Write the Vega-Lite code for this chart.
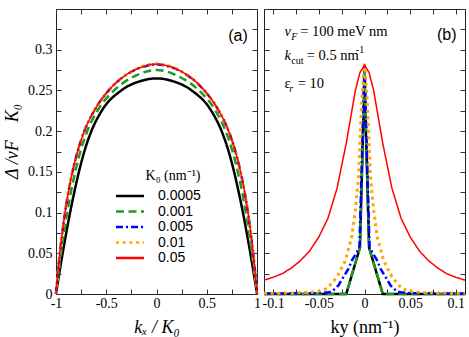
{
  "$schema": "https://vega.github.io/schema/vega-lite/v6.json",
  "padding": {"left": 3, "top": 1, "right": 0, "bottom": 0},
  "background": "white",
  "config": {
    "view": {"stroke": "#222", "strokeWidth": 1},
    "axis": {"domain": false, "grid": false, "ticks": true, "tickSize": -5, "tickColor": "#333", "tickWidth": 1, "labelFont": "Liberation Serif", "labelFontSize": 14, "labelColor": "#000", "labelFlush": false, "labelOverlap": false, "titleFont": "Liberation Serif", "titleFontSize": 18, "titleFontWeight": "normal", "titleColor": "#000"}
  },
  "datasets": {
    "a": [
      {"kx": -1, "D": 0, "K0": "0.0005"}, {"kx": -0.968, "D": 0.025, "K0": "0.0005"}, {"kx": -0.934, "D": 0.05, "K0": "0.0005"}, {"kx": -0.898, "D": 0.075, "K0": "0.0005"}, {"kx": -0.86, "D": 0.1, "K0": "0.0005"}, {"kx": -0.818, "D": 0.125, "K0": "0.0005"}, {"kx": -0.772, "D": 0.15, "K0": "0.0005"}, {"kx": -0.718, "D": 0.175, "K0": "0.0005"}, {"kx": -0.648, "D": 0.2, "K0": "0.0005"}, {"kx": -0.545, "D": 0.225, "K0": "0.0005"}, {"kx": -0.35, "D": 0.25, "K0": "0.0005"}, {"kx": -0.15, "D": 0.2618, "K0": "0.0005"}, {"kx": 0, "D": 0.2648, "K0": "0.0005"}, {"kx": 0.15, "D": 0.2618, "K0": "0.0005"}, {"kx": 0.35, "D": 0.25, "K0": "0.0005"}, {"kx": 0.545, "D": 0.225, "K0": "0.0005"}, {"kx": 0.648, "D": 0.2, "K0": "0.0005"}, {"kx": 0.718, "D": 0.175, "K0": "0.0005"}, {"kx": 0.772, "D": 0.15, "K0": "0.0005"}, {"kx": 0.818, "D": 0.125, "K0": "0.0005"}, {"kx": 0.86, "D": 0.1, "K0": "0.0005"}, {"kx": 0.898, "D": 0.075, "K0": "0.0005"}, {"kx": 0.934, "D": 0.05, "K0": "0.0005"}, {"kx": 0.968, "D": 0.025, "K0": "0.0005"}, {"kx": 1, "D": 0, "K0": "0.0005"},
      {"kx": -1, "D": 0, "K0": "0.001"}, {"kx": -0.976, "D": 0.025, "K0": "0.001"}, {"kx": -0.95, "D": 0.05, "K0": "0.001"}, {"kx": -0.921, "D": 0.075, "K0": "0.001"}, {"kx": -0.889, "D": 0.1, "K0": "0.001"}, {"kx": -0.852, "D": 0.125, "K0": "0.001"}, {"kx": -0.809, "D": 0.15, "K0": "0.001"}, {"kx": -0.757, "D": 0.175, "K0": "0.001"}, {"kx": -0.689, "D": 0.2, "K0": "0.001"}, {"kx": -0.588, "D": 0.225, "K0": "0.001"}, {"kx": -0.422, "D": 0.25, "K0": "0.001"}, {"kx": -0.2, "D": 0.2685, "K0": "0.001"}, {"kx": -0.1, "D": 0.2733, "K0": "0.001"}, {"kx": 0, "D": 0.275, "K0": "0.001"}, {"kx": 0.1, "D": 0.2733, "K0": "0.001"}, {"kx": 0.2, "D": 0.2685, "K0": "0.001"}, {"kx": 0.422, "D": 0.25, "K0": "0.001"}, {"kx": 0.588, "D": 0.225, "K0": "0.001"}, {"kx": 0.689, "D": 0.2, "K0": "0.001"}, {"kx": 0.757, "D": 0.175, "K0": "0.001"}, {"kx": 0.809, "D": 0.15, "K0": "0.001"}, {"kx": 0.852, "D": 0.125, "K0": "0.001"}, {"kx": 0.889, "D": 0.1, "K0": "0.001"}, {"kx": 0.921, "D": 0.075, "K0": "0.001"}, {"kx": 0.95, "D": 0.05, "K0": "0.001"}, {"kx": 0.976, "D": 0.025, "K0": "0.001"}, {"kx": 1, "D": 0, "K0": "0.001"},
      {"kx": -1, "D": 0, "K0": "0.005"}, {"kx": -0.982, "D": 0.025, "K0": "0.005"}, {"kx": -0.962, "D": 0.05, "K0": "0.005"}, {"kx": -0.938, "D": 0.075, "K0": "0.005"}, {"kx": -0.91, "D": 0.1, "K0": "0.005"}, {"kx": -0.877, "D": 0.125, "K0": "0.005"}, {"kx": -0.836, "D": 0.15, "K0": "0.005"}, {"kx": -0.785, "D": 0.175, "K0": "0.005"}, {"kx": -0.718, "D": 0.2, "K0": "0.005"}, {"kx": -0.62, "D": 0.225, "K0": "0.005"}, {"kx": -0.475, "D": 0.25, "K0": "0.005"}, {"kx": -0.22, "D": 0.2748, "K0": "0.005"}, {"kx": -0.1, "D": 0.2801, "K0": "0.005"}, {"kx": 0, "D": 0.2818, "K0": "0.005"}, {"kx": 0.1, "D": 0.2801, "K0": "0.005"}, {"kx": 0.22, "D": 0.2748, "K0": "0.005"}, {"kx": 0.475, "D": 0.25, "K0": "0.005"}, {"kx": 0.62, "D": 0.225, "K0": "0.005"}, {"kx": 0.718, "D": 0.2, "K0": "0.005"}, {"kx": 0.785, "D": 0.175, "K0": "0.005"}, {"kx": 0.836, "D": 0.15, "K0": "0.005"}, {"kx": 0.877, "D": 0.125, "K0": "0.005"}, {"kx": 0.91, "D": 0.1, "K0": "0.005"}, {"kx": 0.938, "D": 0.075, "K0": "0.005"}, {"kx": 0.962, "D": 0.05, "K0": "0.005"}, {"kx": 0.982, "D": 0.025, "K0": "0.005"}, {"kx": 0.998, "D": 0.004, "K0": "0.005"},
      {"kx": -1, "D": 0, "K0": "0.01"}, {"kx": -0.982, "D": 0.025, "K0": "0.01"}, {"kx": -0.962, "D": 0.05, "K0": "0.01"}, {"kx": -0.938, "D": 0.075, "K0": "0.01"}, {"kx": -0.91, "D": 0.1, "K0": "0.01"}, {"kx": -0.877, "D": 0.125, "K0": "0.01"}, {"kx": -0.836, "D": 0.15, "K0": "0.01"}, {"kx": -0.785, "D": 0.175, "K0": "0.01"}, {"kx": -0.718, "D": 0.2, "K0": "0.01"}, {"kx": -0.62, "D": 0.225, "K0": "0.01"}, {"kx": -0.475, "D": 0.25, "K0": "0.01"}, {"kx": -0.22, "D": 0.2752, "K0": "0.01"}, {"kx": -0.1, "D": 0.281, "K0": "0.01"}, {"kx": 0, "D": 0.2828, "K0": "0.01"}, {"kx": 0.1, "D": 0.281, "K0": "0.01"}, {"kx": 0.22, "D": 0.2752, "K0": "0.01"}, {"kx": 0.475, "D": 0.25, "K0": "0.01"}, {"kx": 0.62, "D": 0.225, "K0": "0.01"}, {"kx": 0.718, "D": 0.2, "K0": "0.01"}, {"kx": 0.785, "D": 0.175, "K0": "0.01"}, {"kx": 0.836, "D": 0.15, "K0": "0.01"}, {"kx": 0.877, "D": 0.125, "K0": "0.01"}, {"kx": 0.91, "D": 0.1, "K0": "0.01"}, {"kx": 0.938, "D": 0.075, "K0": "0.01"}, {"kx": 0.962, "D": 0.05, "K0": "0.01"}, {"kx": 0.982, "D": 0.025, "K0": "0.01"}, {"kx": 1, "D": 0, "K0": "0.01"},
      {"kx": -1, "D": 0, "K0": "0.05"}, {"kx": -0.982, "D": 0.025, "K0": "0.05"}, {"kx": -0.962, "D": 0.05, "K0": "0.05"}, {"kx": -0.938, "D": 0.075, "K0": "0.05"}, {"kx": -0.91, "D": 0.1, "K0": "0.05"}, {"kx": -0.877, "D": 0.125, "K0": "0.05"}, {"kx": -0.836, "D": 0.15, "K0": "0.05"}, {"kx": -0.785, "D": 0.175, "K0": "0.05"}, {"kx": -0.718, "D": 0.2, "K0": "0.05"}, {"kx": -0.62, "D": 0.225, "K0": "0.05"}, {"kx": -0.475, "D": 0.25, "K0": "0.05"}, {"kx": -0.22, "D": 0.275, "K0": "0.05"}, {"kx": -0.1, "D": 0.2805, "K0": "0.05"}, {"kx": 0, "D": 0.2823, "K0": "0.05"}, {"kx": 0.1, "D": 0.2805, "K0": "0.05"}, {"kx": 0.22, "D": 0.275, "K0": "0.05"}, {"kx": 0.475, "D": 0.25, "K0": "0.05"}, {"kx": 0.62, "D": 0.225, "K0": "0.05"}, {"kx": 0.718, "D": 0.2, "K0": "0.05"}, {"kx": 0.785, "D": 0.175, "K0": "0.05"}, {"kx": 0.836, "D": 0.15, "K0": "0.05"}, {"kx": 0.877, "D": 0.125, "K0": "0.05"}, {"kx": 0.91, "D": 0.1, "K0": "0.05"}, {"kx": 0.938, "D": 0.075, "K0": "0.05"}, {"kx": 0.962, "D": 0.05, "K0": "0.05"}, {"kx": 0.982, "D": 0.025, "K0": "0.05"}, {"kx": 1, "D": 0, "K0": "0.05"}
    ],
    "b": [
      {"ky": -0.11, "D": 0, "K0": "0.0005"}, {"ky": -0.02, "D": 0, "K0": "0.0005"}, {"ky": -0.005, "D": 0.057, "K0": "0.0005"}, {"ky": 0, "D": 0.2648, "K0": "0.0005"}, {"ky": 0.005, "D": 0.057, "K0": "0.0005"}, {"ky": 0.02, "D": 0, "K0": "0.0005"}, {"ky": 0.11, "D": 0, "K0": "0.0005"},
      {"ky": -0.11, "D": 0, "K0": "0.001"}, {"ky": -0.02, "D": 0, "K0": "0.001"}, {"ky": -0.005, "D": 0.057, "K0": "0.001"}, {"ky": 0, "D": 0.275, "K0": "0.001"}, {"ky": 0.005, "D": 0.057, "K0": "0.001"}, {"ky": 0.02, "D": 0, "K0": "0.001"}, {"ky": 0.11, "D": 0, "K0": "0.001"},
      {"ky": -0.11, "D": 0.0005, "K0": "0.005"}, {"ky": -0.05, "D": 0.001, "K0": "0.005"}, {"ky": -0.036, "D": 0.0025, "K0": "0.005"}, {"ky": -0.0285, "D": 0.0106, "K0": "0.005"}, {"ky": -0.023, "D": 0.021, "K0": "0.005"}, {"ky": -0.0175, "D": 0.031, "K0": "0.005"}, {"ky": -0.0139, "D": 0.041, "K0": "0.005"}, {"ky": -0.0084, "D": 0.0515, "K0": "0.005"}, {"ky": -0.0055, "D": 0.058, "K0": "0.005"}, {"ky": 0, "D": 0.2818, "K0": "0.005"}, {"ky": 0.0055, "D": 0.058, "K0": "0.005"}, {"ky": 0.0084, "D": 0.0515, "K0": "0.005"}, {"ky": 0.0139, "D": 0.041, "K0": "0.005"}, {"ky": 0.0175, "D": 0.031, "K0": "0.005"}, {"ky": 0.023, "D": 0.021, "K0": "0.005"}, {"ky": 0.0285, "D": 0.0106, "K0": "0.005"}, {"ky": 0.036, "D": 0.0025, "K0": "0.005"}, {"ky": 0.05, "D": 0.001, "K0": "0.005"}, {"ky": 0.11, "D": 0.0005, "K0": "0.005"},
      {"ky": -0.11, "D": 0.0008, "K0": "0.01"}, {"ky": -0.07, "D": 0.0015, "K0": "0.01"}, {"ky": -0.054, "D": 0.0025, "K0": "0.01"}, {"ky": -0.041, "D": 0.0065, "K0": "0.01"}, {"ky": -0.03, "D": 0.021, "K0": "0.01"}, {"ky": -0.021, "D": 0.041, "K0": "0.01"}, {"ky": -0.014, "D": 0.07, "K0": "0.01"}, {"ky": -0.01, "D": 0.103, "K0": "0.01"}, {"ky": -0.0066, "D": 0.143, "K0": "0.01"}, {"ky": -0.0047, "D": 0.196, "K0": "0.01"}, {"ky": -0.003, "D": 0.237, "K0": "0.01"}, {"ky": 0, "D": 0.2828, "K0": "0.01"}, {"ky": 0.003, "D": 0.237, "K0": "0.01"}, {"ky": 0.0047, "D": 0.196, "K0": "0.01"}, {"ky": 0.0066, "D": 0.143, "K0": "0.01"}, {"ky": 0.01, "D": 0.103, "K0": "0.01"}, {"ky": 0.014, "D": 0.07, "K0": "0.01"}, {"ky": 0.021, "D": 0.041, "K0": "0.01"}, {"ky": 0.03, "D": 0.021, "K0": "0.01"}, {"ky": 0.041, "D": 0.0065, "K0": "0.01"}, {"ky": 0.054, "D": 0.0025, "K0": "0.01"}, {"ky": 0.07, "D": 0.0015, "K0": "0.01"}, {"ky": 0.11, "D": 0.0008, "K0": "0.01"},
      {"ky": -0.11, "D": 0.017, "K0": "0.05"}, {"ky": -0.1, "D": 0.0205, "K0": "0.05"}, {"ky": -0.09, "D": 0.025, "K0": "0.05"}, {"ky": -0.08, "D": 0.032, "K0": "0.05"}, {"ky": -0.07, "D": 0.041, "K0": "0.05"}, {"ky": -0.06, "D": 0.053, "K0": "0.05"}, {"ky": -0.05, "D": 0.07, "K0": "0.05"}, {"ky": -0.04, "D": 0.093, "K0": "0.05"}, {"ky": -0.03, "D": 0.13, "K0": "0.05"}, {"ky": -0.02, "D": 0.185, "K0": "0.05"}, {"ky": -0.01, "D": 0.25, "K0": "0.05"}, {"ky": -0.005, "D": 0.272, "K0": "0.05"}, {"ky": 0, "D": 0.281, "K0": "0.05"}, {"ky": 0.005, "D": 0.272, "K0": "0.05"}, {"ky": 0.01, "D": 0.25, "K0": "0.05"}, {"ky": 0.02, "D": 0.185, "K0": "0.05"}, {"ky": 0.03, "D": 0.13, "K0": "0.05"}, {"ky": 0.04, "D": 0.093, "K0": "0.05"}, {"ky": 0.05, "D": 0.07, "K0": "0.05"}, {"ky": 0.06, "D": 0.053, "K0": "0.05"}, {"ky": 0.07, "D": 0.041, "K0": "0.05"}, {"ky": 0.08, "D": 0.032, "K0": "0.05"}, {"ky": 0.09, "D": 0.025, "K0": "0.05"}, {"ky": 0.1, "D": 0.0205, "K0": "0.05"}, {"ky": 0.11, "D": 0.017, "K0": "0.05"}
    ]
  },
  "spacing": 7,
  "bounds": "flush",
  "resolve": {"legend": {"color": "independent", "strokeDash": "independent"}},
  "hconcat": [
    {
      "width": 201,
      "height": 285,
      "layer": [
        {
          "data": {"name": "a"},
          "mark": {"type": "line", "interpolate": "monotone", "strokeWidth": {"expr": "datum.K0 == '0.05' ? 1.5 : (datum.K0 == '0.01' ? 3 : 2.5)"}},
          "encoding": {
            "x": {"field": "kx", "type": "quantitative", "scale": {"domain": [-1, 1], "nice": false, "zero": false},
              "axis": {"orient": "bottom", "values": [-1, -0.75, -0.5, -0.25, 0, 0.25, 0.5, 0.75, 1], "format": "~g", "labelPadding": 7,
                "labelExpr": "abs(datum.value*2 - round(datum.value*2)) < 0.001 ? replace(datum.label, '−', '-') : ''",
                "title": "kₓ / K₀", "titleFontStyle": "italic", "titlePadding": 8}},
            "y": {"field": "D", "type": "quantitative", "scale": {"domain": [0, 0.35], "nice": false},
              "axis": {"orient": "left", "values": [0, 0.025, 0.05, 0.075, 0.1, 0.125, 0.15, 0.175, 0.2, 0.225, 0.25, 0.275, 0.3, 0.325, 0.35], "format": "~g", "labelPadding": 9,
                "labelExpr": "abs(datum.value*20 - round(datum.value*20)) < 0.001 && datum.value < 0.32 ? datum.label : ''",
                "title": "Δ /vF\u2003K₀", "titleFontStyle": "italic", "titlePadding": 6, "titleY": 132}},
            "color": {"field": "K0", "type": "nominal",
              "scale": {"domain": ["0.0005", "0.001", "0.005", "0.01", "0.05"], "range": ["#000000", "#1e9a1e", "#0000ff", "#ffa500", "#ff0000"]},
              "legend": {"orient": "none", "legendX": 58.5, "legendY": 160, "title": "K₀ (nm⁻¹)", "titleFont": "Liberation Serif", "titleFontSize": 14, "titleFontWeight": "normal", "titleColor": "#000", "titleAnchor": "end", "titlePadding": 6, "labelFont": "Liberation Sans", "labelFontSize": 14, "labelColor": "#000", "labelAlign": "left", "labelOffset": 12.5, "symbolType": "stroke", "symbolSize": 784, "symbolStrokeWidth": 2.5, "clipHeight": 14, "rowPadding": 1.5, "padding": 0}},
            "strokeDash": {"field": "K0", "type": "nominal",
              "scale": {"domain": ["0.0005", "0.001", "0.005", "0.01", "0.05"], "range": [[1, 0], [8, 4.5], [7, 3, 2, 3], [3, 3.7], [1, 0]]},
              "legend": {"orient": "none", "legendX": 58.5, "legendY": 160, "title": "K₀ (nm⁻¹)", "titleFont": "Liberation Serif", "titleFontSize": 14, "titleFontWeight": "normal", "titleColor": "#000", "titleAnchor": "end", "titlePadding": 6, "labelFont": "Liberation Sans", "labelFontSize": 14, "labelColor": "#000", "labelAlign": "left", "labelOffset": 12.5, "symbolType": "stroke", "symbolSize": 784, "symbolStrokeWidth": 2.5, "clipHeight": 14, "rowPadding": 1.5, "padding": 0}}
          }
        },
        {
          "data": {"values": [{"t": "(a)", "x": 0.811, "y": 0.317}]},
          "mark": {"type": "text", "font": "Liberation Sans", "fontSize": 16, "align": "center", "baseline": "middle", "color": "#000"},
          "encoding": {
            "x": {"field": "x", "type": "quantitative", "scale": {"domain": [-1, 1], "nice": false, "zero": false},
              "axis": {"orient": "top", "values": [-1, -0.75, -0.5, -0.25, 0, 0.25, 0.5, 0.75, 1], "labels": false, "title": null}},
            "y": {"field": "y", "type": "quantitative", "scale": {"domain": [0, 0.35], "nice": false},
              "axis": {"orient": "right", "values": [0, 0.025, 0.05, 0.075, 0.1, 0.125, 0.15, 0.175, 0.2, 0.225, 0.25, 0.275, 0.3, 0.325, 0.35], "labels": false, "title": null}},
            "text": {"field": "t"}
          }
        }
      ],
      "resolve": {"axis": {"x": "independent", "y": "independent"}}
    },
    {
      "width": 201,
      "height": 285,
      "layer": [
        {
          "data": {"name": "b"},
          "mark": {"type": "line", "strokeWidth": {"expr": "datum.K0 == '0.05' ? 1.5 : (datum.K0 == '0.01' ? 3 : 2.5)"}},
          "encoding": {
            "x": {"field": "ky", "type": "quantitative", "scale": {"domain": [-0.11, 0.11], "nice": false, "zero": false},
              "axis": {"orient": "bottom", "values": [-0.1, -0.075, -0.05, -0.025, 0, 0.025, 0.05, 0.075, 0.1], "format": "~g", "labelPadding": 7,
                "labelExpr": "abs(datum.value*20 - round(datum.value*20)) < 0.001 ? replace(datum.label, '−', '-') : ''",
                "title": "ky (nm⁻¹)", "titlePadding": 8}},
            "y": {"field": "D", "type": "quantitative", "scale": {"domain": [0, 0.35], "nice": false},
              "axis": {"orient": "left", "values": [0, 0.025, 0.05, 0.075, 0.1, 0.125, 0.15, 0.175, 0.2, 0.225, 0.25, 0.275, 0.3, 0.325, 0.35], "labels": false, "title": null}},
            "color": {"field": "K0", "type": "nominal",
              "scale": {"domain": ["0.0005", "0.001", "0.005", "0.01", "0.05"], "range": ["#000000", "#1e9a1e", "#0000ff", "#ffa500", "#ff0000"]}, "legend": null},
            "strokeDash": {"field": "K0", "type": "nominal",
              "scale": {"domain": ["0.0005", "0.001", "0.005", "0.01", "0.05"], "range": [[1, 0], [8, 4.5], [7, 3, 2, 3], [3, 3.7], [1, 0]]}, "legend": null}
          }
        },
        {
          "data": {"values": [{"t": "(b)", "x": 0.09, "y": 0.318}]},
          "mark": {"type": "text", "font": "Liberation Sans", "fontSize": 16, "align": "center", "baseline": "middle", "color": "#000"},
          "encoding": {
            "x": {"field": "x", "type": "quantitative", "scale": {"domain": [-0.11, 0.11], "nice": false, "zero": false},
              "axis": {"orient": "top", "values": [-0.1, -0.075, -0.05, -0.025, 0, 0.025, 0.05, 0.075, 0.1], "labels": false, "title": null}},
            "y": {"field": "y", "type": "quantitative", "scale": {"domain": [0, 0.35], "nice": false},
              "axis": {"orient": "right", "values": [0, 0.025, 0.05, 0.075, 0.1, 0.125, 0.15, 0.175, 0.2, 0.225, 0.25, 0.275, 0.3, 0.325, 0.35], "labels": false, "title": null}},
            "text": {"field": "t"}
          }
        },
        {
          "data": {"values": [{"t": "= 100 meV nm", "x": -0.0704, "y": 0.3172}, {"t": "= 0.5 nm", "x": -0.0632, "y": 0.2872}, {"t": "ε", "x": -0.0876, "y": 0.2525}, {"t": "= 10", "x": -0.073, "y": 0.2525}]},
          "mark": {"type": "text", "font": "Liberation Serif", "fontSize": 14.5, "align": "left", "baseline": "alphabetic", "color": "#000"},
          "encoding": {
            "x": {"field": "x", "type": "quantitative", "scale": {"domain": [-0.11, 0.11], "nice": false, "zero": false}, "axis": null},
            "y": {"field": "y", "type": "quantitative", "scale": {"domain": [0, 0.35], "nice": false}, "axis": null},
            "text": {"field": "t"}
          }
        },
        {
          "data": {"values": [{"t": "v", "x": -0.0876, "y": 0.3172}, {"t": "k", "x": -0.0876, "y": 0.2872}]},
          "mark": {"type": "text", "font": "Liberation Serif", "fontSize": 14.5, "fontStyle": "italic", "align": "left", "baseline": "alphabetic", "color": "#000"},
          "encoding": {
            "x": {"field": "x", "type": "quantitative", "scale": {"domain": [-0.11, 0.11], "nice": false, "zero": false}, "axis": null},
            "y": {"field": "y", "type": "quantitative", "scale": {"domain": [0, 0.35], "nice": false}, "axis": null},
            "text": {"field": "t"}
          }
        },
        {
          "data": {"values": [{"t": "F", "x": -0.0802, "y": 0.3172}, {"t": "r", "x": -0.0824, "y": 0.2525}]},
          "mark": {"type": "text", "font": "Liberation Serif", "fontSize": 10, "fontStyle": "italic", "align": "left", "baseline": "alphabetic", "dy": 4, "color": "#000"},
          "encoding": {
            "x": {"field": "x", "type": "quantitative", "scale": {"domain": [-0.11, 0.11], "nice": false, "zero": false}, "axis": null},
            "y": {"field": "y", "type": "quantitative", "scale": {"domain": [0, 0.35], "nice": false}, "axis": null},
            "text": {"field": "t"}
          }
        },
        {
          "data": {"values": [{"t": "cut", "x": -0.0802, "y": 0.2872, "k": "sub"}, {"t": "-1", "x": -0.0095, "y": 0.2872, "k": "sup"}]},
          "mark": {"type": "text", "font": "Liberation Serif", "fontSize": 10, "align": "left", "baseline": "alphabetic", "dy": {"expr": "datum.k == 'sub' ? 4 : -7"}, "color": "#000"},
          "encoding": {
            "x": {"field": "x", "type": "quantitative", "scale": {"domain": [-0.11, 0.11], "nice": false, "zero": false}, "axis": null},
            "y": {"field": "y", "type": "quantitative", "scale": {"domain": [0, 0.35], "nice": false}, "axis": null},
            "text": {"field": "t"}
          }
        }
      ],
      "resolve": {"axis": {"x": "independent", "y": "independent"}}
    }
  ]
}
